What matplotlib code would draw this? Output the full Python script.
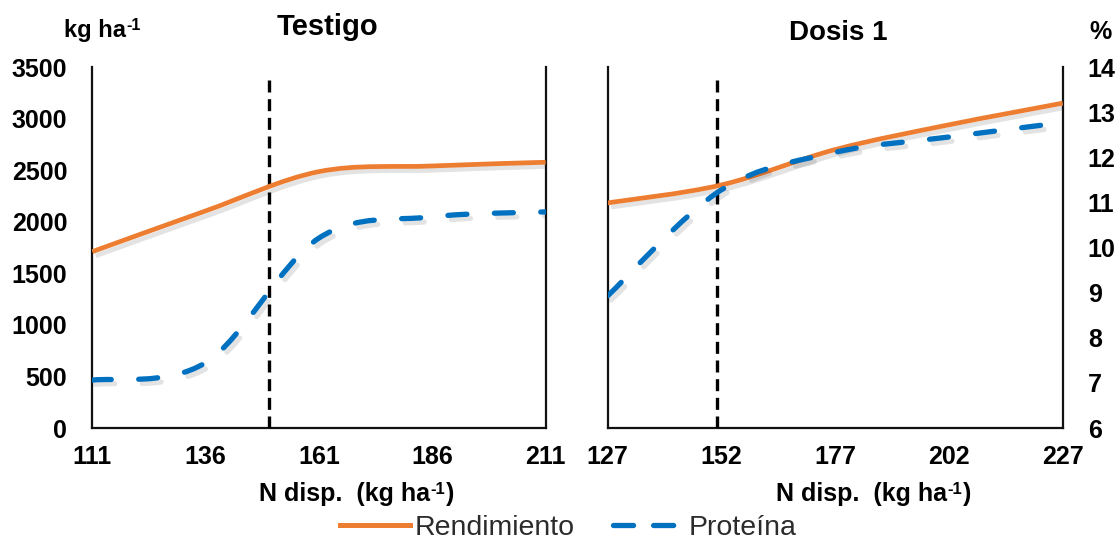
import matplotlib
matplotlib.use("Agg")
import matplotlib.pyplot as plt
from matplotlib.path import Path
from matplotlib.patches import PathPatch
from matplotlib.lines import Line2D
from matplotlib.text import Annotation
import matplotlib.patheffects as pe

plt.rcParams['font.family'] = ['Liberation Sans', 'DejaVu Sans']

# ---- data ----
n_testigo = [111, 136, 161, 186, 211]
rend_testigo = [1710, 2105, 2486, 2541, 2577]
prot_testigo = [7.06, 7.45, 10.21, 10.68, 10.79]

n_dosis1 = [127, 152, 177, 202, 227]
rend_dosis1 = [2183, 2357, 2700, 2940, 3150]
prot_dosis1 = [8.93, 11.28, 12.11, 12.45, 12.77]

nopt_testigo = 150
nopt_dosis1 = 151

yield_ticks = [0, 500, 1000, 1500, 2000, 2500, 3000, 3500]
prot_ticks = [6, 7, 8, 9, 10, 11, 12, 13, 14]

ORANGE = '#ED7D31'
BLUE = '#0070C0'
TICK_FS = 18


def smooth_path(xs, ys):
    pts = list(zip(xs, ys))
    n = len(pts)
    verts = [pts[0]]
    codes = [Path.MOVETO]
    for i in range(n - 1):
        p0 = pts[i - 1] if i > 0 else pts[i]
        p1 = pts[i]
        p2 = pts[i + 1]
        p3 = pts[i + 2] if i + 2 < n else pts[i + 1]
        c1 = (p1[0] + (p2[0] - p0[0]) / 6, p1[1] + (p2[1] - p0[1]) / 6)
        c2 = (p2[0] - (p3[0] - p1[0]) / 6, p2[1] - (p3[1] - p1[1]) / 6)
        verts += [c1, c2, p2]
        codes += [Path.CURVE4] * 3
    return Path(verts, codes)


shadow = [pe.SimpleLineShadow(offset=(2.5, -3), shadow_color='#000000', alpha=0.11), pe.Normal()]


def draw_panel(rect, xs, rend, prot, nopt, show_left, show_right):
    ax = fig.add_axes(rect)
    tw = ax.twinx()
    ax.set_xlim(xs[0], xs[-1])
    ax.set_ylim(0, 3500)
    tw.set_ylim(6, 14)
    ax.set_xticks(xs)
    ax.set_xticklabels([str(v) for v in xs], fontsize=TICK_FS, fontweight='bold')
    ax.set_yticks(yield_ticks)
    if show_left:
        ax.set_yticklabels([str(v) for v in yield_ticks], fontsize=TICK_FS, fontweight='bold')
    else:
        ax.tick_params(axis='y', labelleft=False)
    tw.set_yticks(prot_ticks)
    if show_right:
        tw.set_yticklabels([str(v) for v in prot_ticks], fontsize=TICK_FS, fontweight='bold')
    else:
        tw.tick_params(axis='y', labelright=False)
    ax.tick_params(axis='both', length=0)
    ax.tick_params(axis='y', pad=18)
    ax.tick_params(axis='x', pad=12)
    tw.tick_params(axis='y', length=0, pad=18)
    for s in ['left', 'bottom', 'right']:
        ax.spines[s].set_linewidth(1.6)
        ax.spines[s].set_color('#111111')
    ax.spines['top'].set_visible(False)
    for s in tw.spines.values():
        s.set_visible(False)
    ax.axvline(nopt, ymin=0, ymax=0.978, color='black', lw=2.4,
               linestyle=(0, (3.6, 2.0)), zorder=3)
    p1 = PathPatch(smooth_path(xs, rend), fill=False, edgecolor=ORANGE, lw=3.4,
                   capstyle='butt', zorder=4)
    p1.set_path_effects(shadow)
    ax.add_patch(p1)
    p2 = PathPatch(smooth_path(xs, prot), fill=False, edgecolor=BLUE, lw=3.8,
                   linestyle=(0, (3.6, 5.2)), capstyle='round', zorder=5)
    p2.set_path_effects(shadow)
    tw.add_patch(p2)
    return ax, tw


fig = plt.figure(figsize=(11.2, 5.42), dpi=100)
ax1, tw1 = draw_panel([0.0824, 0.2103, 0.4048, 0.666], n_testigo, rend_testigo,
                      prot_testigo, nopt_testigo, True, False)
ax2, tw2 = draw_panel([0.5426, 0.2103, 0.4063, 0.666], n_dosis1, rend_dosis1,
                      prot_dosis1, nopt_dosis1, False, True)

fig.text(327 / 1120, 1 - 27 / 542, 'Testigo', fontsize=21, fontweight='bold',
         ha='center', va='center')
fig.text(838 / 1120, 1 - 33 / 542, 'Dosis 1', fontsize=20, fontweight='bold',
         ha='center', va='center')
fig.text(1101 / 1120, 1 - 32 / 542, '%', fontsize=18, fontweight='bold',
         ha='center', va='center')

# kg ha-1 (top-left)
t0 = fig.text(64 / 1120, 1 - 30 / 542, 'kg ha', fontsize=17, fontweight='bold',
              ha='left', va='center')
fig.add_artist(Annotation('-1', xy=(1.0, 1.0), xycoords=t0, xytext=(0.5, 0),
                          textcoords='offset points', fontsize=11.5, fontweight='bold',
                          ha='left', va='top'))

# x labels
for xl in (259, 776):
    t = fig.text(xl / 1120, 1 - 494 / 542, 'N disp.  (kg ha', fontsize=18, fontweight='bold',
                 ha='left', va='center')
    sp = fig.add_artist(Annotation('-1', xy=(1.0, 1.0), xycoords=t, xytext=(0.5, 0),
                                   textcoords='offset points', fontsize=12,
                                   fontweight='bold', ha='left', va='top'))
    fig.add_artist(Annotation(')', xy=(1.0, 0.0), xycoords=(sp, t), xytext=(0.5, 0),
                              textcoords='offset points', fontsize=18, fontweight='bold',
                              ha='left', va='bottom'))

handles = [Line2D([], [], color=ORANGE, lw=3.6),
           Line2D([], [], color=BLUE, lw=3.8, linestyle=(0, (3.8, 3.8)), dash_capstyle='round')]
fig.legend(handles, ['Rendimiento', 'Proteína'], loc='center', ncol=2,
           bbox_to_anchor=(568 / 1120, 1 - 528 / 542), frameon=False, fontsize=20.5,
           handlelength=2.45, handletextpad=0.18, columnspacing=1.35, labelcolor='#2b2b2b')

fig.savefig('out.png', dpi=100)
